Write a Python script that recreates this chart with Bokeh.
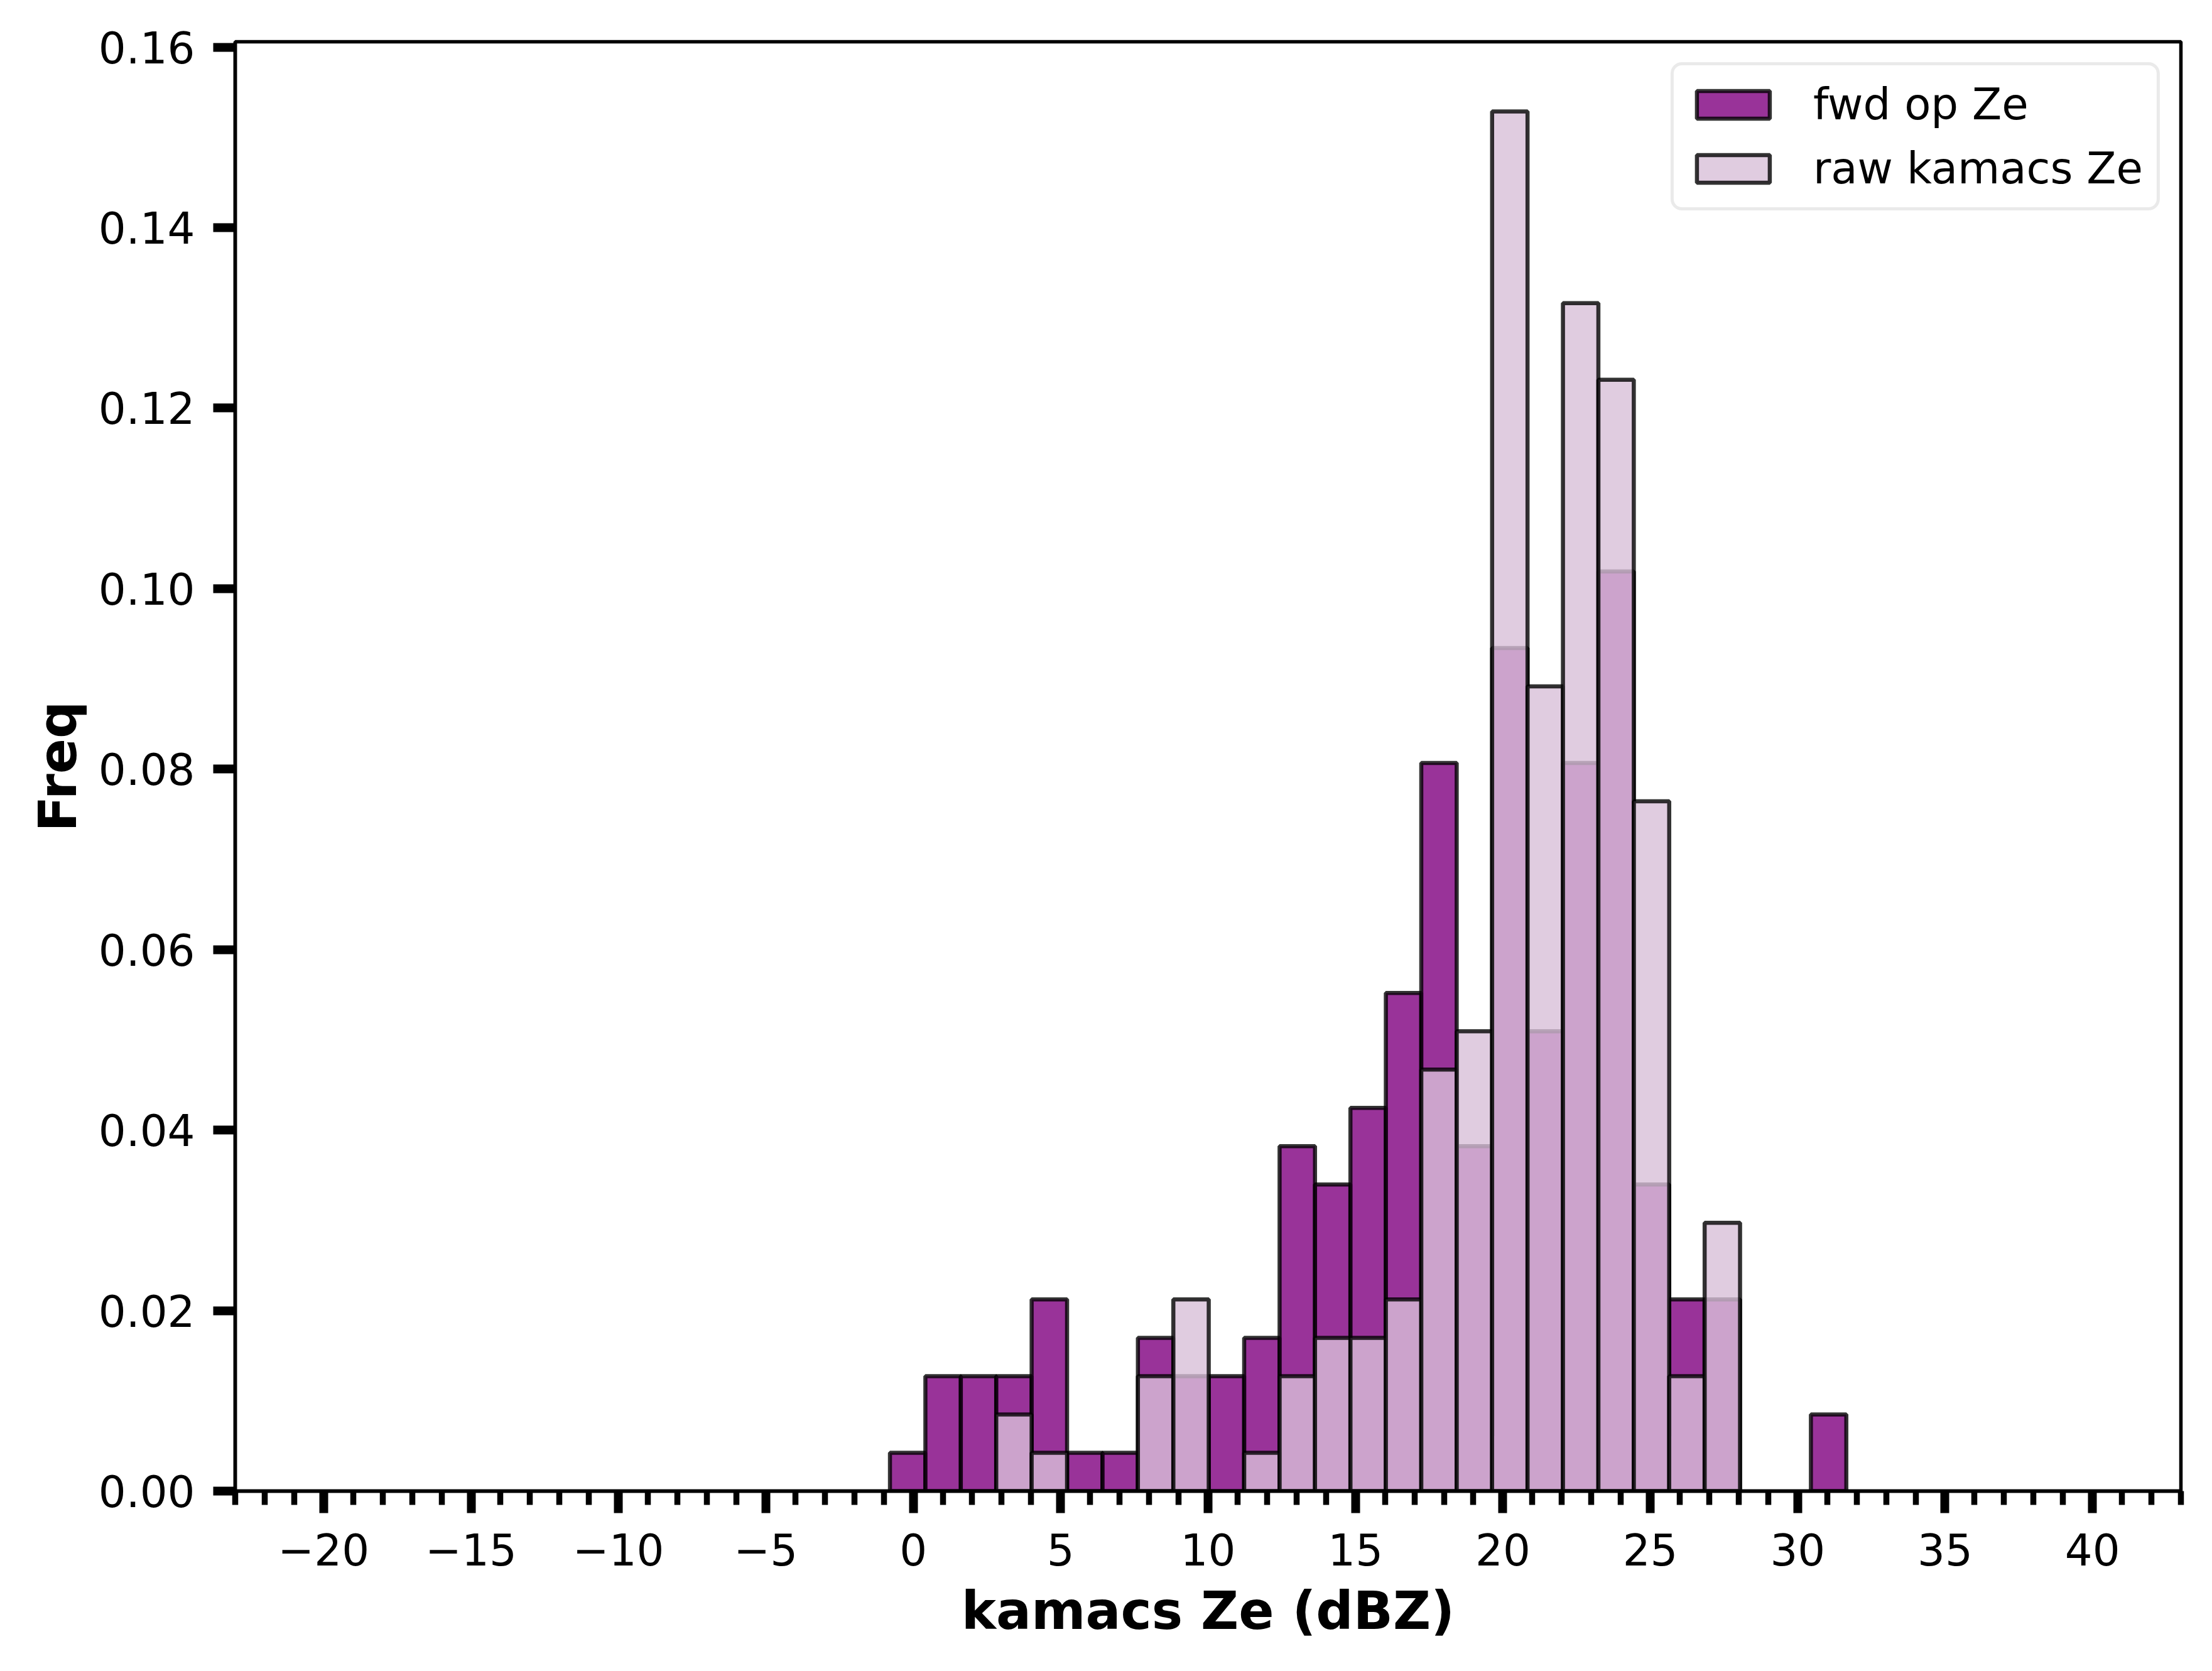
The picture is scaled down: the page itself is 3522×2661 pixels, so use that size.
from bokeh.plotting import figure
from bokeh.models import (FixedTicker, Range1d, Legend, LegendItem,
                          ColumnDataSource, PrintfTickFormatter)
from bokeh.embed import file_html
from bokeh.resources import INLINE

# ---- data ----
bin_start = -0.79
bin_width = 1.2015
n_bins = 27
fwd_counts = [1, 3, 3, 3, 5, 1, 1, 4, 3, 3, 4, 9, 8, 10, 13, 19, 9, 22, 12, 19, 24, 8, 5, 5, 0, 0, 2]
raw_counts = [0, 0, 0, 2, 1, 0, 0, 3, 5, 0, 1, 3, 4, 4, 5, 11, 12, 36, 21, 31, 29, 18, 3, 7, 0, 0, 0]
x_ticks = [-20, -15, -10, -5, 0, 5, 10, 15, 20, 25, 30, 35, 40]
x_minor = list(range(-23, 44))
y_ticks = [0.0, 0.02, 0.04, 0.06, 0.08, 0.10, 0.12, 0.14, 0.16]
series_names = ["fwd op Ze", "raw kamacs Ze"]

FONT = "DejaVu Sans"


def hist_source(counts):
    total = sum(counts)
    left, right, top = [], [], []
    for i, c in enumerate(counts):
        if c == 0:
            continue
        l = bin_start + i * bin_width
        left.append(l)
        right.append(l + bin_width)
        top.append(c / (total * bin_width))
    return ColumnDataSource(dict(left=left, right=right, top=top, bottom=[0.0] * len(top)))


p = figure(width=3510, height=2652, output_backend="svg", toolbar_location=None,
           x_range=Range1d(-23, 43), y_range=Range1d(0, 0.1606),
           min_border_left=374, min_border_right=38, min_border_top=66,
           min_border_bottom=278)
p.background_fill_color = "white"
p.border_fill_color = "white"
p.xgrid.visible = False
p.ygrid.visible = False
p.outline_line_color = "black"
p.outline_line_width = 5.5

src_fwd = hist_source(fwd_counts)
src_raw = hist_source(raw_counts)

r_fwd = p.quad(left="left", right="right", top="top", bottom="bottom", source=src_fwd,
               fill_color="purple", fill_alpha=0.8, line_color="black", line_alpha=0.8,
               line_width=6.5)
r_raw = p.quad(left="left", right="right", top="top", bottom="bottom", source=src_raw,
               fill_color="thistle", fill_alpha=0.8, line_color="black", line_alpha=0.8,
               line_width=6.5)

# axes
xa = p.xaxis[0]
xa.ticker = FixedTicker(ticks=x_ticks, minor_ticks=x_minor)
xa.major_label_overrides = {t: str(t).replace("-", "\u2212") for t in x_ticks}
xa.axis_label = "kamacs Ze (dBZ)"
ya = p.yaxis[0]
ya.ticker = FixedTicker(ticks=y_ticks)
ya.formatter = PrintfTickFormatter(format="%.2f")
ya.axis_label = "Freq"
ya.minor_tick_line_color = None

for ax in (xa, ya):
    ax.axis_line_width = 5.5
    ax.axis_line_color = "black"
    ax.major_tick_line_width = 14
    ax.major_tick_line_color = "black"
    ax.major_tick_out = 35
    ax.major_tick_in = 0
    ax.major_label_text_font = FONT
    ax.major_label_text_font_size = "69px"
    ax.major_label_text_color = "black"
    ax.axis_label_text_font = FONT
    ax.axis_label_text_font_size = "83px"
    ax.axis_label_text_font_style = "bold"
    ax.axis_label_text_color = "black"

xa.minor_tick_line_width = 9.5
xa.minor_tick_line_color = "black"
xa.minor_tick_out = 22
xa.minor_tick_in = 0
xa.major_label_standoff = 32
xa.axis_label_standoff = 21
ya.major_label_standoff = 29
ya.axis_label_standoff = 13

legend = Legend(items=[LegendItem(label=series_names[0], renderers=[r_fwd]),
                       LegendItem(label=series_names[1], renderers=[r_raw])],
                location="top_right")
legend.margin = 33
legend.padding = 22
legend.spacing = 22
legend.glyph_width = 145
legend.glyph_height = 55
legend.label_standoff = 55
legend.label_text_font = FONT
legend.label_text_font_size = "69px"
legend.label_text_color = "black"
legend.border_line_color = "#d6d6d6"
legend.border_line_width = 5
legend.background_fill_color = "white"
legend.background_fill_alpha = 0.8
if "border_radius" in Legend.properties():
    legend.border_radius = 18
p.add_layout(legend)

open("out.html", "w").write(file_html(p, INLINE))
